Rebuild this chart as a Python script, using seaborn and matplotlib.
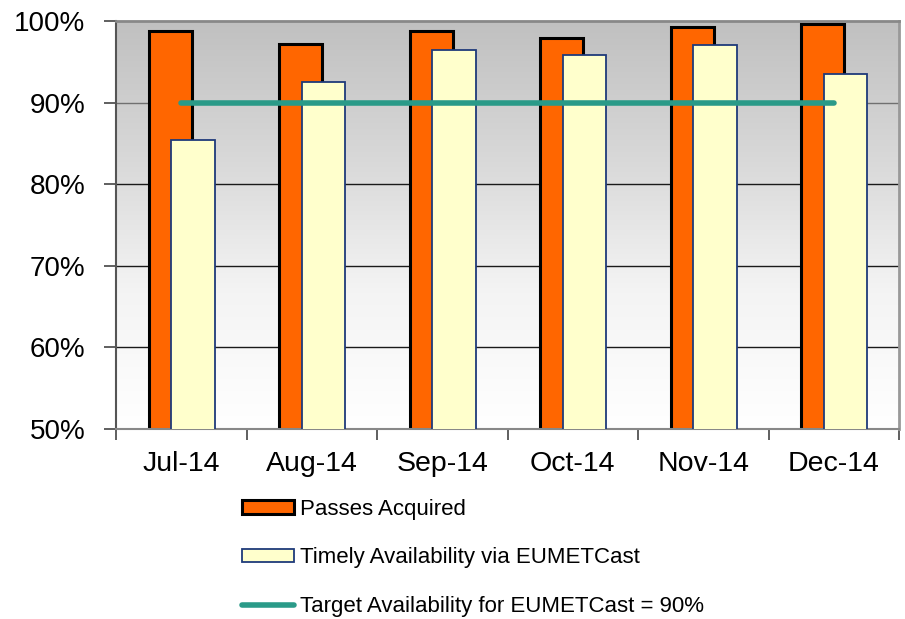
import numpy as np
import pandas as pd
import matplotlib
matplotlib.use("Agg")
import matplotlib.pyplot as plt
from matplotlib.patches import Patch
from matplotlib.lines import Line2D
import seaborn as sns

months = ["Jul-14", "Aug-14", "Sep-14", "Oct-14", "Nov-14", "Dec-14"]
passes_acquired = [98.8, 97.2, 98.8, 97.9, 99.3, 99.6]
timely_availability = [85.4, 92.5, 96.4, 95.8, 97.1, 93.5]
target = [90, 90, 90, 90, 90, 90]
y_ticks = [50, 60, 70, 80, 90, 100]
series_names = ["Passes Acquired", "Timely Availability via EUMETCast",
                "Target Availability for EUMETCast = 90%"]

sns.set_theme(style="white")
plt.rcParams["font.family"] = ["Liberation Sans", "DejaVu Sans"]
plt.rcParams["text.color"] = "black"

df = pd.DataFrame({
    "month": months * 2,
    "value": passes_acquired + timely_availability,
    "series": [series_names[0]] * len(months) + [series_names[1]] * len(months),
})

ORANGE = "#ff6600"
YELLOW = "#ffffcc"
TEAL = "#2a9a88"
NAVY = "#1f3a7a"

fig = plt.figure(figsize=(9.05, 6.19), dpi=100)
ax = fig.add_axes([116 / 905, 1 - 429 / 619, (899 - 116) / 905, (429 - 21) / 619])

# gradient background
grad = np.linspace(0, 1, 256).reshape(-1, 1)
ax.imshow(grad, aspect="auto", cmap=matplotlib.colors.LinearSegmentedColormap.from_list(
    "g", ["#ffffff", "#f4f4f4", "#d8d8d8", "#c0c0c0"]),
    extent=[-0.5, len(months) - 0.5, 50, 100], origin="lower", zorder=0)

sns.barplot(data=df, x="month", y="value", hue="series", order=months,
            hue_order=series_names[:2], palette=[ORANGE, YELLOW],
            dodge=True, legend=False, ax=ax, saturation=1, zorder=2)

width = 0.33
offsets = [-0.085, 0.09]
bars = [p for p in ax.patches]
n = len(months)
for i, p in enumerate(bars[:2 * n]):
    s = i // n
    c = i % n
    p.set_width(width)
    p.set_x(c + offsets[s] - width / 2)
    if s == 0:
        p.set_edgecolor("black")
        p.set_linewidth(2.2)
        p.set_zorder(2)
    else:
        p.set_edgecolor(NAVY)
        p.set_linewidth(1.3)
        p.set_zorder(3)

ax.plot(np.arange(n), target, color=TEAL, lw=4, solid_capstyle="round", zorder=4)

ax.set_xlim(-0.5, n - 0.5)
ax.set_ylim(50, 100)
ax.set_xlabel("")
ax.set_ylabel("")

for v in y_ticks[1:-1]:
    ax.axhline(v, color="#707070" if v == 90 else "#1a1a1a", lw=1.0, zorder=1)

ax.set_yticks(y_ticks)
ax.set_yticklabels([f"{v}%" for v in y_ticks])
ax.set_xticks(np.arange(n))
ax.set_xticklabels(months)
ax.set_xticks(np.arange(n + 1) - 0.5, minor=True)
ax.tick_params(axis="y", which="major", left=True, length=9, width=1.2,
               color="#444444", labelsize=20, pad=13, labelcolor="black")
ax.tick_params(axis="x", which="major", bottom=False, length=0,
               labelsize=20.5, pad=16, labelcolor="black")
ax.tick_params(axis="x", which="minor", bottom=True, length=8, width=1.2,
               color="#444444")

for side, col, lw in [("left", "#555555", 1.5), ("bottom", "#888888", 1.5),
                      ("top", "#888888", 2.0), ("right", "#999999", 2.0)]:
    ax.spines[side].set_visible(True)
    ax.spines[side].set_color(col)
    ax.spines[side].set_linewidth(lw)

handles = [
    Patch(facecolor=ORANGE, edgecolor="black", linewidth=2.2),
    Patch(facecolor=YELLOW, edgecolor=NAVY, linewidth=1.3),
    Line2D([0], [0], color=TEAL, lw=4, solid_capstyle="round"),
]
leg = fig.legend(handles, series_names, loc="center left",
                 bbox_to_anchor=(242 / 905, 1 - 558 / 619), frameon=False,
                 fontsize=16, handlelength=2.35, handleheight=0.55, handletextpad=0.27,
                 labelspacing=1.25, borderpad=0, borderaxespad=0)
for t in leg.get_texts():
    t.set_color("black")

fig.savefig("out.png", dpi=100)
